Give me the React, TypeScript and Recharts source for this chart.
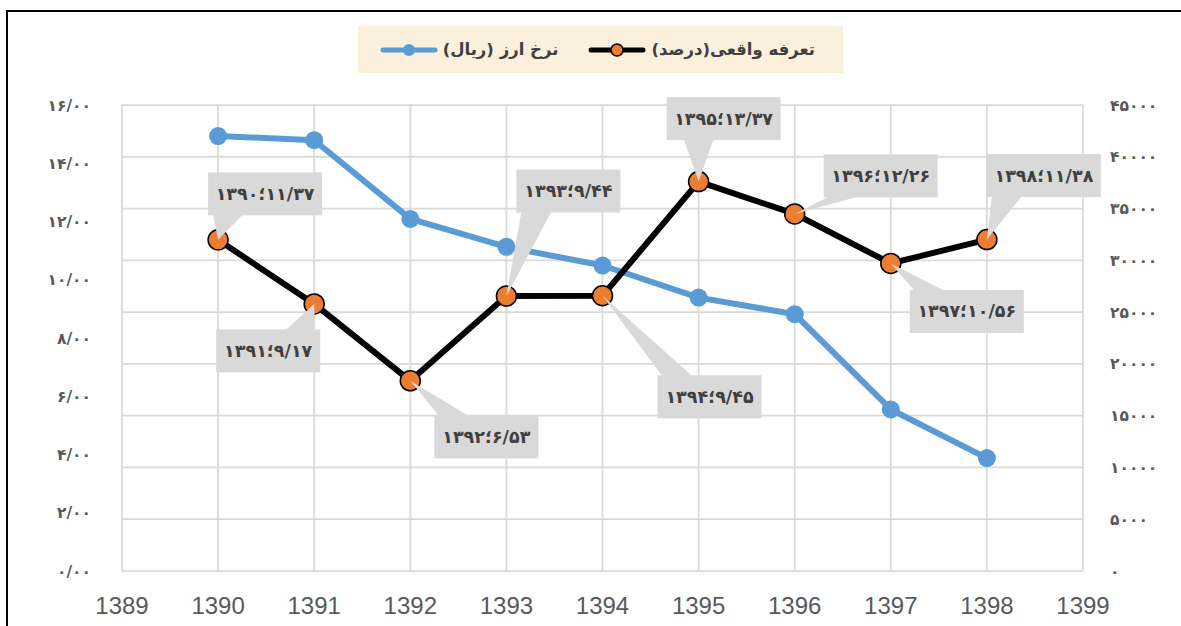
import { LineChart, Line, XAxis, YAxis, CartesianGrid, LabelList } from "recharts";

// سال‌ها و مقادیر
const years = [1390, 1391, 1392, 1393, 1394, 1395, 1396, 1397, 1398];
const exchangeRate = [42000, 41600, 34000, 31300, 29500, 26400, 24800, 15600, 10900];
const realTariff = [11.37, 9.17, 6.53, 9.44, 9.45, 13.37, 12.26, 10.56, 11.38];

const xTicks = [1389, 1390, 1391, 1392, 1393, 1394, 1395, 1396, 1397, 1398, 1399];
const leftTicks = [0, 2, 4, 6, 8, 10, 12, 14, 16];
const rightTicks = [0, 5000, 10000, 15000, 20000, 25000, 30000, 35000, 40000, 45000];

const rateLabel = "نرخ ارز (ریال)";
const tariffLabel = "تعرفه واقعی(درصد)";

// callout box centre relative to its point
const calloutOffsets = [
  [47, -46],
  [-46, 47],
  [76, 56],
  [62, -105],
  [107, 101],
  [25, -63],
  [86, -38],
  [76, 48],
  [57, -64],
];

const data = years.map((y, i) => ({ year: y, rate: exchangeRate[i], tariff: realTariff[i] }));

const FA_DIGITS = "۰۱۲۳۴۵۶۷۸۹";
const fa = (s: string) => s.replace(/\d/g, (d) => FA_DIGITS[+d]);

const PERSIAN_FONT = "'DejaVu Sans', sans-serif";
const AXIS_GRAY = "#595959";

function Callout(props: any) {
  const { x, y, value, index } = props;
  if (x == null || y == null) return null;
  const [dx, dy] = calloutOffsets[index];
  const text = `${fa(String(years[index]))}؛${fa(Number(value).toFixed(2).replace(".", "/"))}`;
  const w = text.length * 10 + 14;
  const h = 43;
  const cx = x + dx;
  const cy = y + dy;
  const left = cx - w / 2;
  const right = cx + w / 2;
  const top = cy - h / 2;
  const bottom = cy + h / 2;
  const clamp = (v: number, a: number, b: number) => Math.max(a, Math.min(b, v));

  let pts = "";
  if (y > bottom) {
    const bx = clamp(x, left + 20, right - 20);
    pts = `${bx - 15},${bottom - 1} ${bx + 15},${bottom - 1} ${x},${y}`;
  } else if (y < top) {
    const bx = clamp(x, left + 20, right - 20);
    pts = `${bx - 15},${top + 1} ${bx + 15},${top + 1} ${x},${y}`;
  } else {
    const by = clamp(y, top + 12, bottom - 12);
    const ex = x < left ? left + 1 : right - 1;
    pts = `${ex},${by - 10} ${ex},${by + 10} ${x},${y}`;
  }

  return (
    <g>
      <polygon points={pts} fill="#D9D9D9" />
      <rect x={left} y={top} width={w} height={h} fill="#D9D9D9" />
      <text
        x={cx}
        y={cy}
        textAnchor="middle"
        dominantBaseline="central"
        fontFamily={PERSIAN_FONT}
        fontWeight={700}
        fontSize={17.5}
        fill="#404040"
        style={{ direction: "ltr", unicodeBidi: "bidi-override" }}
      >
        {text}
      </text>
    </g>
  );
}

function Swatch({ color, marker, stroke }: { color: string; marker: string; stroke?: string }) {
  return (
    <svg width={58} height={16} style={{ display: "block" }}>
      <line x1={3} y1={8} x2={55} y2={8} stroke={color} strokeWidth={5} strokeLinecap="round" />
      <circle cx={29} cy={8} r={6} fill={marker} stroke={stroke ?? "none"} strokeWidth={1.5} />
    </svg>
  );
}

function ChartLegend() {
  const textStyle = {
    fontFamily: PERSIAN_FONT,
    fontWeight: 700,
    fontSize: 16.5,
    color: "#404040",
    whiteSpace: "nowrap" as const,
  };
  return (
    <div
      dir="rtl"
      style={{
        position: "absolute",
        left: 358,
        top: 26,
        width: 485,
        height: 47,
        background: "#FBF0DB",
        display: "flex",
        alignItems: "center",
        paddingRight: 28,
        boxSizing: "border-box",
      }}
    >
      <span style={textStyle}>{tariffLabel}</span>
      <span style={{ marginRight: 5 }}>
        <Swatch color="#000000" marker="#ED7D31" stroke="#000000" />
      </span>
      <span style={{ ...textStyle, marginRight: 30 }}>{rateLabel}</span>
      <span style={{ marginRight: 5 }}>
        <Swatch color="#5B9BD5" marker="#5B9BD5" />
      </span>
    </div>
  );
}

export default function App() {
  return (
    <div
      style={{
        position: "fixed",
        left: 0,
        top: 0,
        width: 1181,
        height: 626,
        background: "#ffffff",
        overflow: "hidden",
      }}
    >
      {/* frame: only top and left edges are visible */}
      <div style={{ position: "absolute", left: 6, top: 10, width: 1175, height: 2, background: "#000" }} />
      <div style={{ position: "absolute", left: 6, top: 10, width: 2, height: 616, background: "#000" }} />
      <div style={{ position: "absolute", left: 0, top: 0 }}>
        <LineChart width={1170} height={626} data={data} margin={{ top: 105, right: 0, bottom: 0, left: 0 }}>
          <CartesianGrid stroke="#D9D9D9" strokeWidth={1.75} yAxisId="right" />
          <XAxis
            dataKey="year"
            type="number"
            domain={[1389, 1399]}
            ticks={xTicks}
            height={55}
            axisLine={false}
            tickLine={false}
            tickSize={0}
            tickMargin={26}
            tick={{ fill: AXIS_GRAY, fontSize: 24, fontFamily: "'Liberation Sans Narrow', 'Liberation Sans', sans-serif" }}
          />
          <YAxis
            yAxisId="left"
            orientation="left"
            width={122}
            domain={[0, 16]}
            ticks={leftTicks}
            axisLine={false}
            tickLine={false}
            tickSize={0}
            tickMargin={31}
            tickFormatter={(v: number) => fa(v.toFixed(2).replace(".", "/"))}
            tick={{ fill: AXIS_GRAY, fontSize: 15.5, fontWeight: 700, fontFamily: PERSIAN_FONT }}
          />
          <YAxis
            yAxisId="right"
            orientation="right"
            width={87}
            domain={[0, 45000]}
            ticks={rightTicks}
            axisLine={false}
            tickLine={false}
            tickSize={0}
            tickMargin={27}
            tickFormatter={(v: number) => fa(String(v))}
            tick={{ fill: AXIS_GRAY, fontSize: 15.5, fontWeight: 700, fontFamily: PERSIAN_FONT }}
          />
          <Line
            yAxisId="right"
            dataKey="rate"
            stroke="#5B9BD5"
            strokeWidth={6}
            strokeLinejoin="round"
            dot={{ r: 9, fill: "#5B9BD5", stroke: "none" }}
            isAnimationActive={false}
          />
          <Line
            yAxisId="left"
            dataKey="tariff"
            stroke="#000000"
            strokeWidth={6}
            strokeLinejoin="round"
            dot={{ r: 10, fill: "#ED7D31", stroke: "#000000", strokeWidth: 1.5 }}
            isAnimationActive={false}
          >
            <LabelList dataKey="tariff" content={Callout} />
          </Line>
        </LineChart>
      </div>
      <ChartLegend />
    </div>
  );
}
